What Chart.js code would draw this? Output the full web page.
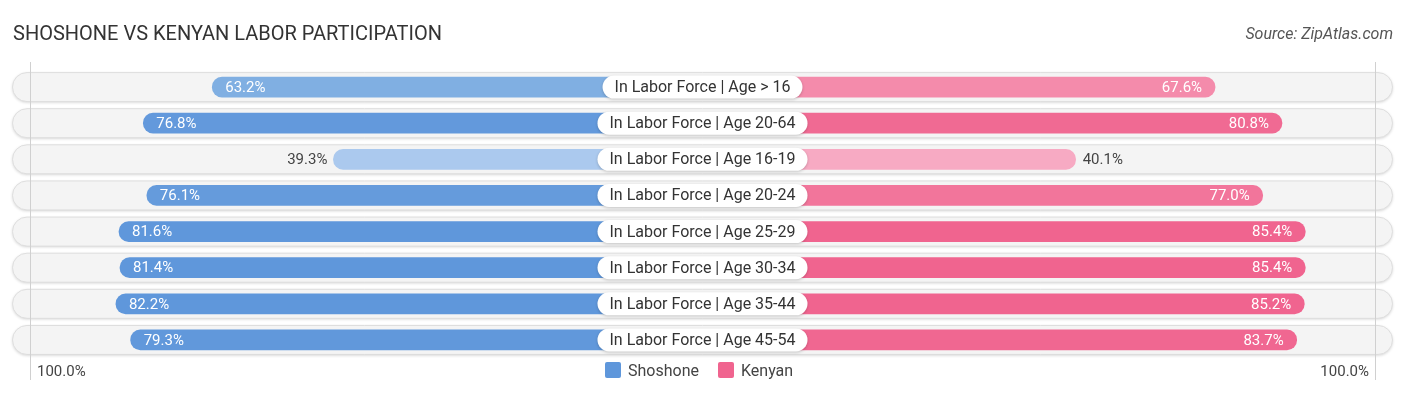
<!DOCTYPE html>
<html>
<head>
<meta charset="utf-8">
<script src="https://cdn.jsdelivr.net/npm/chart.js@4/dist/chart.umd.min.js"></script>
<style>
  html, body { margin: 0; padding: 0; background: #ffffff; }
  #wrap { width: 1406px; height: 395px; position: relative; }
  canvas { display: block; }
</style>
</head>
<body>
<div id="wrap"><canvas id="c" width="1406" height="395"></canvas></div>
<script>
// ---- data ----
const categories = [
  "In Labor Force | Age > 16",
  "In Labor Force | Age 20-64",
  "In Labor Force | Age 16-19",
  "In Labor Force | Age 20-24",
  "In Labor Force | Age 25-29",
  "In Labor Force | Age 30-34",
  "In Labor Force | Age 35-44",
  "In Labor Force | Age 45-54"
];
const shoshone = [63.2, 76.8, 39.3, 76.1, 81.6, 81.4, 82.2, 79.3];
const kenyan   = [67.6, 80.8, 40.1, 77.0, 85.4, 85.4, 85.2, 83.7];
const seriesNames = ["Shoshone", "Kenyan"];
const shoshoneColors = ["#80afe2", "#6399dc", "#abc9ee", "#659bdc", "#5f97db", "#5f97db", "#5f97db", "#6198db"];
const kenyanColors   = ["#f48bab", "#f06a93", "#f7aac3", "#f2759b", "#f0648f", "#f0648f", "#f0648f", "#f06791"];
const legendColors = ["#5f97db", "#f0648f"];
const titleText = "SHOSHONE VS KENYAN LABOR PARTICIPATION";
const sourceText = "Source: ZipAtlas.com";
const edgeLabel = "100.0%";

// bars start under the centre label: offset (in % units) from the centre
const GAP = 33.5;
const SCALE_MAX = 136.2;
const EDGE = 132.7;

const FONT = "Roboto, 'Liberation Sans', sans-serif";

function roundRect(ctx, x, y, w, h, r) {
  r = Math.min(r, h / 2, w / 2);
  ctx.beginPath();
  ctx.moveTo(x + r, y);
  ctx.lineTo(x + w - r, y);
  ctx.arc(x + w - r, y + r, r, -Math.PI / 2, 0);
  ctx.lineTo(x + w, y + h - r);
  ctx.arc(x + w - r, y + h - r, r, 0, Math.PI / 2);
  ctx.lineTo(x + r, y + h);
  ctx.arc(x + r, y + h - r, r, Math.PI / 2, Math.PI);
  ctx.lineTo(x, y + r);
  ctx.arc(x + r, y + r, r, Math.PI, Math.PI * 1.5);
  ctx.closePath();
}

const decor = {
  id: 'decor',
  beforeDatasetsDraw(chart) {
    const ctx = chart.ctx;
    const y = chart.scales.y;
    const x = chart.scales.x;
    const left = chart.chartArea.left, right = chart.chartArea.right;
    // row pills
    categories.forEach((c, i) => {
      const cy = y.getPixelForValue(i);
      const h = 29;
      ctx.save();
      ctx.shadowColor = 'rgba(0,0,0,0.18)';
      ctx.shadowBlur = 3;
      ctx.shadowOffsetY = 1;
      roundRect(ctx, left + 0.5, cy - h / 2, right - left - 1, h, h / 2);
      ctx.fillStyle = '#f4f4f4';
      ctx.fill();
      ctx.restore();
      ctx.save();
      roundRect(ctx, left + 0.5, cy - h / 2, right - left - 1, h, h / 2);
      ctx.strokeStyle = '#dedede';
      ctx.lineWidth = 1;
      ctx.stroke();
      ctx.restore();
    });
    // 100% edge lines
    ctx.save();
    ctx.strokeStyle = '#d0d0d0';
    ctx.lineWidth = 1;
    [-EDGE, EDGE].forEach(v => {
      const px = Math.round(x.getPixelForValue(v)) + 0.5;
      ctx.beginPath();
      ctx.moveTo(px, 62);
      ctx.lineTo(px, 380);
      ctx.stroke();
    });
    ctx.restore();
  },
  afterDatasetsDraw(chart) {
    const ctx = chart.ctx;
    const y = chart.scales.y;
    const x = chart.scales.x;
    const cx = x.getPixelForValue(0);
    // value labels
    ctx.save();
    ctx.font = "15px " + FONT;
    ctx.textBaseline = 'middle';
    const m0 = chart.getDatasetMeta(0), m1 = chart.getDatasetMeta(1);
    shoshone.forEach((v, i) => {
      const el = m0.data[i];
      const cy = el.y;
      const edge = Math.min(el.x, el.base);
      const txt = v.toFixed(1) + '%';
      if (v < 50) {
        ctx.fillStyle = '#444444';
        ctx.textAlign = 'right';
        ctx.fillText(txt, edge - 6, cy + 1);
      } else {
        ctx.fillStyle = '#ffffff';
        ctx.textAlign = 'left';
        ctx.fillText(txt, edge + 13, cy + 1);
      }
    });
    kenyan.forEach((v, i) => {
      const el = m1.data[i];
      const cy = el.y;
      const edge = Math.max(el.x, el.base);
      const txt = v.toFixed(1) + '%';
      if (v < 50) {
        ctx.fillStyle = '#444444';
        ctx.textAlign = 'left';
        ctx.fillText(txt, edge + 7, cy + 1);
      } else {
        ctx.fillStyle = '#ffffff';
        ctx.textAlign = 'right';
        ctx.fillText(txt, edge - 13, cy + 1);
      }
    });
    ctx.restore();
    // centre labels
    ctx.save();
    ctx.font = "16px " + FONT;
    ctx.textBaseline = 'middle';
    ctx.textAlign = 'center';
    categories.forEach((c, i) => {
      const cy = y.getPixelForValue(i);
      const w = ctx.measureText(c).width + 24;
      const h = 23;
      ctx.save();
      ctx.shadowColor = 'rgba(0,0,0,0.2)';
      ctx.shadowBlur = 3;
      ctx.shadowOffsetY = 1;
      roundRect(ctx, cx - w / 2, cy - h / 2, w, h, h / 2);
      ctx.fillStyle = '#ffffff';
      ctx.fill();
      ctx.restore();
      ctx.fillStyle = '#333333';
      ctx.fillText(c, cx, cy + 1);
    });
    ctx.restore();
  },
  afterDraw(chart) {
    const ctx = chart.ctx;
    ctx.save();
    // title
    ctx.fillStyle = '#333333';
    ctx.font = "20px " + FONT;
    ctx.textAlign = 'left';
    ctx.textBaseline = 'alphabetic';
    ctx.fillText(titleText, 13, 40);
    // source
    ctx.fillStyle = '#555555';
    ctx.font = "italic 16px " + FONT;
    ctx.textAlign = 'right';
    ctx.fillText(sourceText, 1393, 39);
    // edge labels
    ctx.fillStyle = '#444444';
    ctx.font = "15px " + FONT;
    ctx.textAlign = 'left';
    ctx.fillText(edgeLabel, 37, 376);
    ctx.textAlign = 'right';
    ctx.fillText(edgeLabel, 1369, 376);
    // legend
    const items = [
      { name: seriesNames[0], color: legendColors[0], x: 605 },
      { name: seriesNames[1], color: legendColors[1], x: 718 }
    ];
    ctx.font = "16px " + FONT;
    ctx.textAlign = 'left';
    items.forEach(it => {
      ctx.fillStyle = it.color;
      roundRect(ctx, it.x, 362, 16, 16, 2);
      ctx.fill();
      ctx.fillStyle = '#444444';
      ctx.fillText(it.name, it.x + 23, 376);
    });
    ctx.restore();
  }
};

const chart = new Chart(document.getElementById('c'), {
  type: 'bar',
  data: {
    labels: categories,
    datasets: [
      {
        label: seriesNames[0],
        data: shoshone.map(v => [-(GAP + v), 0]),
        backgroundColor: shoshoneColors,
        borderRadius: 10,
        borderSkipped: false,
        barThickness: 20,
        grouped: false
      },
      {
        label: seriesNames[1],
        data: kenyan.map(v => [0, GAP + v]),
        backgroundColor: kenyanColors,
        borderRadius: 10,
        borderSkipped: false,
        barThickness: 20,
        grouped: false
      }
    ]
  },
  options: {
    indexAxis: 'y',
    responsive: false,
    animation: false,
    devicePixelRatio: 1,
    layout: { padding: { left: 12, right: 13, top: 69, bottom: 37 } },
    scales: {
      x: { display: false, min: -SCALE_MAX, max: SCALE_MAX },
      y: { display: false, offset: true }
    },
    plugins: {
      legend: { display: false },
      tooltip: { enabled: false },
      title: { display: false }
    }
  },
  plugins: [decor]
});
</script>
</body>
</html>
